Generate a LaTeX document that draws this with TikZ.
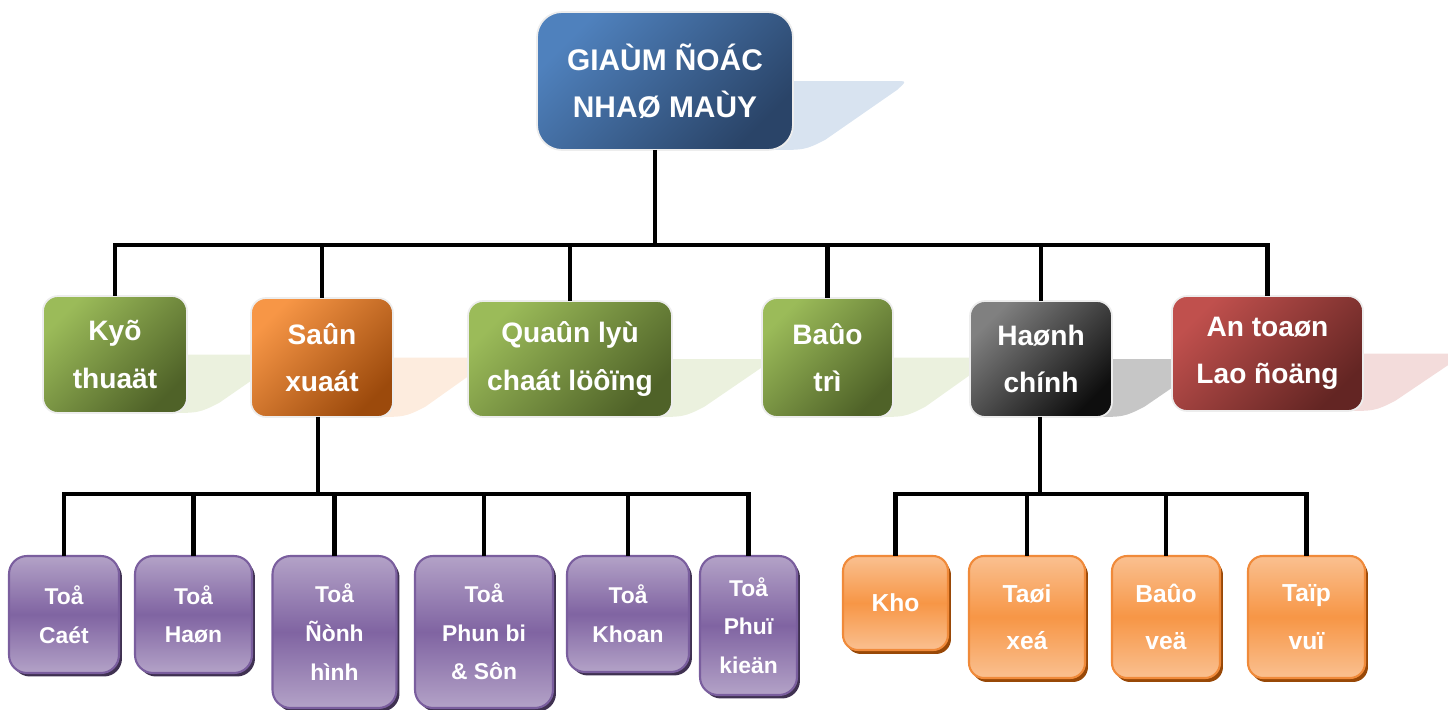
\documentclass[tikz,border=0pt]{standalone}
\usepackage{fontspec}
\setmainfont{Liberation Sans}
\usetikzlibrary{positioning,calc,shadows,backgrounds}

\definecolor{blueL}{HTML}{4F81BD}
\definecolor{blueD}{HTML}{2A4468}
\definecolor{greenL}{HTML}{9BBB59}
\definecolor{greenD}{HTML}{4F6228}
\definecolor{orangeL}{HTML}{F79646}
\definecolor{orangeD}{HTML}{9C4A0C}
\definecolor{greyL}{HTML}{808080}
\definecolor{greyD}{HTML}{0E0E0E}
\definecolor{redL}{HTML}{C0504D}
\definecolor{redD}{HTML}{632523}
\definecolor{purpL}{HTML}{B3A2C7}
\definecolor{purpM}{HTML}{8064A2}
\definecolor{purpB}{HTML}{7A5E9E}
\definecolor{purpS}{HTML}{3F3151}
\definecolor{orgL}{HTML}{FAC090}
\definecolor{orgM}{HTML}{F79646}
\definecolor{orgB}{HTML}{F08A3A}
\definecolor{orgS}{HTML}{984807}

% flat shadow behind a box: node, colour, length
\newcommand{\flatshadow}[3]{%
  \fill[#2] (#1.east) -- ($(#1.east)+(#3-8,0)$)
    .. controls ($(#1.east)+(#3+4,0)$) .. ($(#1.east)+(#3-6,9)$)
    -- ($(#1.south east)+(32,-10)$)
    .. controls ($(#1.south east)+(12,0)$) .. ($(#1.south east)+(-20,0)$) -- cycle;}

\tikzset{
  headbox/.style={rounded corners=0.3cm, draw=black!7, line width=1pt,
    text=white, align=center, inner sep=0pt, outer sep=0pt,
    font=\bfseries\fontsize{16}{27}\selectfont},
  lead/.style 2 args={headbox, top color=#1, bottom color=#2, shading angle=45},
  team/.style={rounded corners=0.36cm, draw=purpB, line width=1.2pt,
    top color=purpL, bottom color=purpL, middle color=purpM,
    drop shadow={shadow xshift=0.06cm, shadow yshift=-0.07cm, fill=purpS, opacity=1},
    text=white, align=center, inner sep=0pt, outer sep=0pt,
    font=\bfseries\fontsize{13}{22}\selectfont},
  staff/.style={rounded corners=0.3cm, draw=orgB, line width=1.2pt,
    top color=orgL, bottom color=orgL, middle color=orgM,
    drop shadow={shadow xshift=0.06cm, shadow yshift=-0.08cm, fill=orgS, opacity=1},
    text=white, align=center, inner sep=0pt, outer sep=0pt,
    font=\bfseries\fontsize{14}{27}\selectfont},
  link/.style={line width=2.8pt}
}

\begin{document}
\begin{tikzpicture}[x=0.02cm,y=-0.02cm]
    \useasboundingbox (0,0) rectangle (1448,710);

    \node[lead={blueL}{blueD}, rounded corners=0.5cm, minimum width=5.12cm, minimum height=2.76cm,
          font=\bfseries\fontsize{17}{27}\selectfont] (GD) at (665,81) {GIAÙM ÑOÁC\\NHAØ MAÙY};

    \node[lead={greenL}{greenD}, minimum width=2.88cm, minimum height=2.34cm] (KT) at (115,354.5) {Kyõ\\thuaät};
    \node[lead={orangeL}{orangeD}, minimum width=2.84cm, minimum height=2.38cm] (SX) at (322,357.5) {Saûn\\xuaát};
    \node[lead={greenL}{greenD}, minimum width=4.08cm, minimum height=2.32cm] (QL) at (570,359) {Quaûn lyù\\chaát löôïng};
    \node[lead={greenL}{greenD}, minimum width=2.62cm, minimum height=2.38cm] (BT) at (827.5,357.5) {Baûo\\trì};
    \node[lead={greyL}{greyD}, minimum width=2.84cm, minimum height=2.32cm] (HC) at (1041,359) {Haønh\\chính};
    \node[lead={redL}{redD}, minimum width=3.82cm, minimum height=2.30cm] (AT) at (1267.5,353.5) {An toaøn\\Lao ñoäng};

    \node[team, minimum width=2.20cm, minimum height=2.34cm] (SX_C1) at (64,614.5) {Toå\\Caét};
    \node[team, minimum width=2.34cm, minimum height=2.34cm] (SX_C2) at (193.5,614.5) {Toå\\Haøn};
    \node[team, minimum width=2.48cm, minimum height=3.04cm] (SX_C3) at (334.5,632) {Toå\\Ñònh\\hình};
    \node[team, minimum width=2.76cm, minimum height=3.04cm] (SX_C4) at (484,632) {Toå\\Phun bi\\\& Sôn};
    \node[team, minimum width=2.44cm, minimum height=2.32cm] (SX_C5) at (628,614) {Toå\\Khoan};
    \node[team, minimum width=1.94cm, minimum height=2.78cm] (SX_C6) at (748.5,625.5) {Toå\\Phuï\\kieän};

    \node[staff, minimum width=2.10cm, minimum height=1.88cm] (HC_C1) at (895.5,603) {Kho};
    \node[staff, minimum width=2.32cm, minimum height=2.44cm] (HC_C2) at (1027,617) {Taøi\\xeá};
    \node[staff, minimum width=2.16cm, minimum height=2.44cm] (HC_C3) at (1166,617) {Baûo\\veä};
    \node[staff, minimum width=2.34cm, minimum height=2.44cm] (HC_C4) at (1306.5,617) {Taïp\\vuï};

    \begin{scope}[on background layer]
      \flatshadow{GD}{blueL!22}{110}
      \flatshadow{KT}{greenL!20}{95}
      \flatshadow{SX}{orangeL!18}{95}
      \flatshadow{QL}{greenL!20}{95}
      \flatshadow{BT}{greenL!20}{95}
      \flatshadow{HC}{greyL!45}{95}
      \flatshadow{AT}{redL!20}{95}
    \end{scope}

    \coordinate (B0) at (655,245);
    \coordinate (B1) at (318,494);
    \coordinate (B2) at (1040,494);
    \draw[link] (GD.south -| B0) -- (B0);
    \foreach \n in {KT,SX,QL,BT,HC,AT}
        \draw[link] (B0) -| (\n.north);
    \draw[link] (SX.south -| B1) -- (B1);
    \foreach \n in {1,...,6}
        \draw[link] (B1) -| (SX_C\n.north);
    \draw[link] (HC.south -| B2) -- (B2);
    \foreach \n in {1,...,4}
        \draw[link] (B2) -| (HC_C\n.north);
\end{tikzpicture}
\end{document}
